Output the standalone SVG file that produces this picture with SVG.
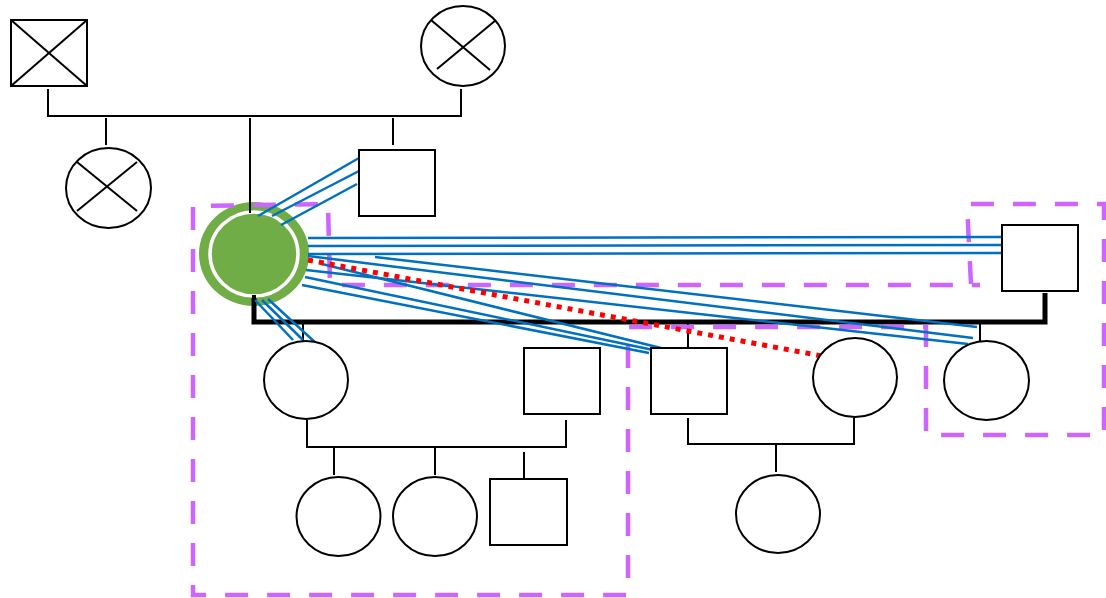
<svg xmlns="http://www.w3.org/2000/svg" width="1106" height="598" viewBox="0 0 1106 598">
  <style>
    .person { fill: #FFFFFF; stroke: #000000; stroke-width: 2; }
    .cross { stroke: #000000; stroke-width: 2; fill: none; }
    .line { stroke: #000000; stroke-width: 2; fill: none; }
    .thick { stroke: #000000; stroke-width: 5; fill: none; }
    .tie { stroke: #0070C0; stroke-width: 2.5; fill: none; }
    .conflict { stroke: #FF0000; stroke-width: 5; stroke-dasharray: 5 6; fill: none; }
    .zone { stroke: #CC66FF; stroke-width: 4.5; stroke-dasharray: 23 19; fill: none; }
  </style>

  <rect width="1106" height="598" fill="#FFFFFF"/>

  <!-- index person -->
  <g id="index">
    <ellipse cx="254" cy="254" rx="55" ry="52" fill="#70AD47"/>
    <ellipse cx="254" cy="254" rx="44" ry="42" fill="#70AD47" stroke="#FFFFFF" stroke-width="3.5"/>
  </g>

  <!-- family lines -->
  <g id="connectors">
    <polyline class="line" points="48,89 48,116 461,116 461,89"/>
    <line class="line" x1="106" y1="118" x2="106" y2="145"/>
    <line class="line" x1="250" y1="118" x2="250" y2="213"/>
    <line class="line" x1="393" y1="118" x2="393" y2="145"/>

    <line x1="254" y1="295" x2="254" y2="300" stroke="#000" stroke-width="4"/>
    <polyline class="thick" points="254,298 254,322 1045,322 1045,293"/>
    <line class="line" x1="303" y1="322" x2="303" y2="341"/>
    <line class="line" x1="688" y1="324" x2="688" y2="348"/>
    <line class="line" x1="980" y1="324" x2="980" y2="341"/>

    <polyline class="line" points="307,420 307,447 566,447 566,420"/>
    <line class="line" x1="334" y1="447" x2="334" y2="475"/>
    <line class="line" x1="435" y1="447" x2="435" y2="475"/>
    <line class="line" x1="524" y1="452" x2="524" y2="478"/>

    <polyline class="line" points="688,418 688,444 854,444 854,417"/>
    <line class="line" x1="776" y1="444" x2="776" y2="472"/>
  </g>

  <!-- household boundary -->
  <g id="household">
    <path class="zone" d="M971,284 L967,204 L1104,204 L1104,435 L926,435 L926,327 L628,327 L628,595 L193,595 L193,206 L328,204 L330,285 L980,285"/>
  </g>

  <!-- relationship ties -->
  <g id="ties">
    <line class="tie" x1="258" y1="216" x2="359" y2="158"/>
    <line class="tie" x1="272" y1="216" x2="359" y2="171"/>
    <line class="tie" x1="281" y1="225" x2="357" y2="184"/>

    <line class="tie" x1="308" y1="238" x2="1002" y2="237"/>
    <line class="tie" x1="308" y1="246" x2="1004" y2="245"/>
    <line class="tie" x1="308" y1="254" x2="1002" y2="253"/>

    <line class="tie" x1="375" y1="257" x2="977" y2="327"/>
    <line class="tie" x1="308" y1="256" x2="973" y2="338"/>
    <line class="tie" x1="306" y1="270" x2="968" y2="344"/>

    <line class="tie" x1="322" y1="264" x2="665" y2="349"/>
    <line class="tie" x1="305" y1="277" x2="658" y2="351"/>
    <line class="tie" x1="302" y1="285" x2="649" y2="353"/>

    <line class="tie" x1="255" y1="300" x2="293" y2="340"/>
    <line class="tie" x1="262" y1="300" x2="303" y2="340"/>
    <line class="tie" x1="268" y1="299" x2="318" y2="345"/>

    <line class="conflict" x1="308" y1="260" x2="822" y2="356"/>
  </g>

  <!-- grandparents -->
  <g id="grandfather">
    <rect class="person" x="11" y="20" width="76" height="66"/>
    <line class="cross" x1="11" y1="20" x2="87" y2="86"/>
    <line class="cross" x1="87" y1="20" x2="11" y2="86"/>
  </g>
  <g id="grandmother">
    <ellipse class="person" cx="463" cy="46" rx="42" ry="40"/>
    <line class="cross" x1="431" y1="20" x2="490" y2="70"/>
    <line class="cross" x1="496" y1="20" x2="437" y2="69"/>
  </g>

  <!-- siblings -->
  <g id="sister">
    <ellipse class="person" cx="108.5" cy="188" rx="42.5" ry="40"/>
    <line class="cross" x1="77" y1="162" x2="137" y2="211"/>
    <line class="cross" x1="137" y1="162" x2="77" y2="211"/>
  </g>
  <g id="brother">
    <rect class="person" x="359" y="150" width="76" height="66"/>
  </g>

  <!-- partner -->
  <g id="partner">
    <rect class="person" x="1002" y="225" width="76" height="66"/>
  </g>

  <!-- children -->
  <g id="daughter1">
    <ellipse class="person" cx="306" cy="380" rx="42" ry="39"/>
  </g>
  <g id="son-in-law">
    <rect class="person" x="524" y="348" width="76" height="66"/>
  </g>
  <g id="son">
    <rect class="person" x="651" y="348" width="76" height="66"/>
  </g>
  <g id="daughter-in-law">
    <ellipse class="person" cx="855" cy="377.5" rx="42" ry="39.5"/>
  </g>
  <g id="daughter2">
    <ellipse class="person" cx="986.5" cy="380.5" rx="42.5" ry="39.5"/>
  </g>

  <!-- grandchildren -->
  <g id="grandchild1">
    <ellipse class="person" cx="338.5" cy="516.5" rx="42" ry="39.5"/>
  </g>
  <g id="grandchild2">
    <ellipse class="person" cx="435" cy="516.5" rx="42" ry="39.5"/>
  </g>
  <g id="grandchild3">
    <rect class="person" x="490" y="479" width="77" height="66"/>
  </g>
  <g id="grandchild4">
    <ellipse class="person" cx="778" cy="514" rx="42" ry="39"/>
  </g>
</svg>
